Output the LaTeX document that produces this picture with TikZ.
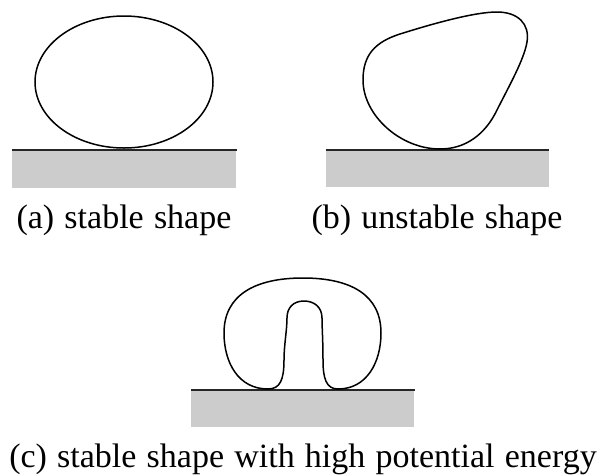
\documentclass[tikz,border=0pt]{standalone}
\usepackage{fontspec}
\setmainfont{Liberation Serif}[WordSpace=1.2]
\usetikzlibrary{positioning}
\tikzset{
  ground/.style={fill=black!20,draw=none},
  surface/.style={line width=1.6pt,color=black!85},
  drop/.style={line width=1.5pt,draw=black},
  capt/.style={font=\fontsize{34}{40}\selectfont,anchor=base,inner sep=0pt},
}

\begin{document}
\begin{tikzpicture}[x=1pt,y=-1pt]
\useasboundingbox (0,0) rectangle (597,475);
% (a) stable
\fill[ground] (12,150) rectangle (236,188);
\draw[surface] (12,150) -- (237,150);
\draw[drop] (124,82) ellipse [x radius=89,y radius=66];
\node[capt] (capa) at (124,228) {(a) stable shape};
% (b) unstable
\fill[ground] (326,150) rectangle (549,187);
\draw[surface] (326,150) -- (549,150);
\draw[drop] (440,149) .. controls (400,149) and (363,115) .. (363,80)
  .. controls (363,55) and (375,42) .. (400,34)
  .. controls (435,23) and (475,12) .. (497,12)
  .. controls (518,12) and (530,24) .. (527,42)
  .. controls (524,60) and (508,88) .. (497,110)
  .. controls (485,135) and (465,149) .. (440,149) -- cycle;
\node[capt] (capb) at (437,228) {(b) unstable shape};
% (c) stable, high potential energy
\fill[ground] (191,390) rectangle (414,427);
\draw[surface] (191,390) -- (415,390);
\draw[drop] (268,389) .. controls (238,389) and (224,362) .. (224,333)
  .. controls (224,295) and (255,278) .. (303,278)
  .. controls (351,278) and (381,295) .. (381,333)
  .. controls (381,362) and (367,389) .. (338,389)
  .. controls (326,389) and (323,378) .. (323,360)
  .. controls (323,340) and (322,328) .. (322,318)
  .. controls (322,307) and (314,301) .. (304,301)
  .. controls (293,301) and (287,308) .. (287,318)
  .. controls (287,330) and (284,345) .. (284,360)
  .. controls (284,380) and (280,389) .. (268,389) -- cycle;
\node[capt] (capc) at (303,467) {(c) stable shape with high potential energy};
\end{tikzpicture}
\end{document}
